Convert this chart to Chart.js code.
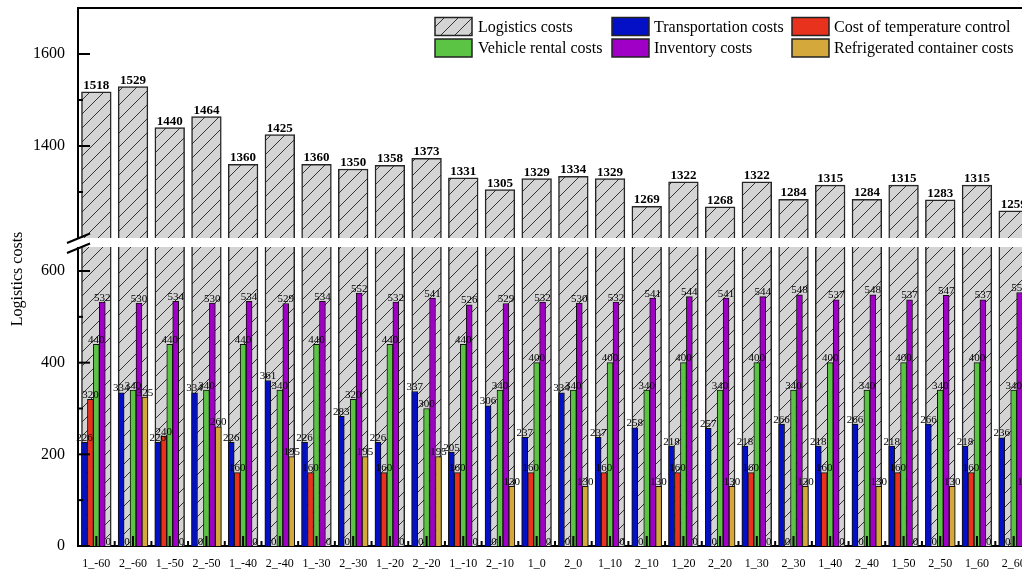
<!DOCTYPE html>
<html>
<head>
<meta charset="utf-8">
<script src="https://cdn.jsdelivr.net/npm/chart.js@4.4.1/dist/chart.umd.min.js"></script>
<style>
html,body{margin:0;padding:0;background:#fff;overflow:hidden;width:1022px;height:572px;}
canvas{display:block;}
</style>
</head>
<body>
<canvas id="c" width="1040" height="572"></canvas>
<script>
const categories = ['1_-60','2_-60','1_-50','2_-50','1_-40','2_-40','1_-30','2_-30','1_-20','2_-20','1_-10','2_-10','1_0','2_0','1_10','2_10','1_20','2_20','1_30','2_30','1_40','2_40','1_50','2_50','1_60','2_60'];
const logisticsCosts = [1518,1529,1440,1464,1360,1425,1360,1350,1358,1373,1331,1305,1329,1334,1329,1269,1322,1268,1322,1284,1315,1284,1315,1283,1315,1259];
const transportationCosts = [226,334,226,334,226,361,226,283,226,337,205,306,237,334,237,258,218,257,218,266,218,266,218,266,218,236];
const temperatureControlCosts = [320,0,240,0,160,0,160,0,160,0,160,0,160,0,160,0,160,0,160,0,160,0,160,0,160,0];
const vehicleRentalCosts = [440,340,440,340,440,340,440,320,440,300,440,340,400,340,400,340,400,340,400,340,400,340,400,340,400,340];
const inventoryCosts = [532,530,534,530,534,529,534,552,532,541,526,529,532,530,532,541,544,541,544,548,537,548,537,547,537,553];
const refrigeratedContainerCosts = [0,325,0,260,0,195,0,195,0,195,0,130,0,130,0,130,0,130,0,130,0,130,0,130,0,130];
const lowerTicks = [0,200,400,600];
const upperTicks = [1400,1600];

const SERIF = '"Liberation Serif", "Times New Roman", serif';
const COLORS = {
  blue:'#0410C6', red:'#E8321E', green:'#5CC444', purple:'#A000C6', gold:'#D4A83A'
};

function makeHatch(){
  const n = 14;
  const p = document.createElement('canvas');
  p.width = n; p.height = n;
  const g = p.getContext('2d');
  g.fillStyle = '#D4D4D4';
  g.fillRect(0,0,n,n);
  g.strokeStyle = '#333';
  g.lineWidth = 1;
  g.beginPath();
  g.moveTo(-1,n+1); g.lineTo(n+1,-1);
  g.moveTo(-1,1); g.lineTo(1,-1);
  g.moveTo(n-1,n+1); g.lineTo(n+1,n-1);
  g.stroke();
  return document.getElementById('c').getContext('2d').createPattern(p,'repeat');
}
const hatch = makeHatch();

// group geometry (fraction of a category slot occupied by a group)
const GROUP_FRAC = 0.81;
const SLOT_PX = 954 / categories.length;
const GREY_PX = SLOT_PX * GROUP_FRAC;
const INNER_PX = GREY_PX / 5;

function toPoints(values, slotShift){
  return values.map((v, i) => ({x: i + slotShift, y: v}));
}
function innerDs(label, values, k, color){
  return {label, data: toPoints(values, (k - 2) * GROUP_FRAC / 5), backgroundColor: color,
    borderColor:'#111', borderWidth:1, yAxisID:'y', grouped:false, barThickness: INNER_PX};
}
function greyDs(axis){
  return {label:'Logistics costs', data: toPoints(logisticsCosts, 0), backgroundColor: hatch,
    borderColor:'#262626', borderWidth:1.5, yAxisID: axis, grouped:false, barThickness: GREY_PX};
}

const helpers = {
  id:'helpers',
  beforeDatasetDraw(chart, args){
    const ys = chart.scales[args.meta.yAxisID];
    const a = chart.chartArea;
    const ctx = chart.ctx;
    ctx.save();
    ctx.beginPath();
    ctx.rect(a.left, ys.top, a.right - a.left, ys.bottom - ys.top);
    ctx.clip();
  },
  afterDatasetDraw(chart){
    chart.ctx.restore();
  },
  afterDatasetsDraw(chart){
    const ctx = chart.ctx;
    const a = chart.chartArea;
    const yL = chart.scales.y, yU = chart.scales.y2, x = chart.scales.x;
    ctx.save();
    ctx.fillStyle = '#000';
    ctx.textAlign = 'center';
    ctx.textBaseline = 'alphabetic';
    ctx.font = '11px ' + SERIF;
    for (let d = 0; d < 5; d++){
      const meta = chart.getDatasetMeta(d);
      const pts = chart.data.datasets[d].data;
      meta.data.forEach((bar, i) => {
        ctx.fillText(String(pts[i].y), bar.x, yL.getPixelForValue(pts[i].y) - 1.5);
      });
    }
    ctx.font = 'bold 13px ' + SERIF;
    chart.getDatasetMeta(6).data.forEach((bar, i) => {
      ctx.fillText(String(logisticsCosts[i]), bar.x, yU.getPixelForValue(logisticsCosts[i]) - 3);
    });
    // x ticks (inward)
    ctx.strokeStyle = '#000';
    ctx.lineWidth = 2;
    for (let i = 0; i < categories.length; i++){
      const cx = x.getPixelForValue(i);
      ctx.beginPath(); ctx.moveTo(cx, a.bottom); ctx.lineTo(cx, a.bottom - 10); ctx.stroke();
      const bx = x.getPixelForValue(i + 0.5);
      ctx.beginPath(); ctx.moveTo(bx, a.bottom); ctx.lineTo(bx, a.bottom - 5); ctx.stroke();
    }
    // y ticks (inward)
    [[yL,[0,200,400,600],12],[yL,[100,300,500],5],[yU,[1400,1600],12],[yU,[1300,1500],5]].forEach(([s, vs, len]) => {
      vs.forEach(v => {
        const py = s.getPixelForValue(v);
        ctx.beginPath(); ctx.moveTo(a.left, py); ctx.lineTo(a.left + len, py); ctx.stroke();
      });
    });
    // top border
    ctx.beginPath(); ctx.moveTo(a.left - 1, a.top); ctx.lineTo(chart.width, a.top); ctx.stroke();
    // axis break
    const gTop = yU.bottom, gBot = gTop + 9;
    ctx.fillStyle = '#fff';
    ctx.fillRect(a.left - 2, gTop, chart.width, gBot - gTop);
    ctx.lineWidth = 2;
    ctx.beginPath();
    ctx.moveTo(a.left - 11, gTop + 5); ctx.lineTo(a.left + 12, gTop - 4.5);
    ctx.moveTo(a.left - 11, gBot + 6); ctx.lineTo(a.left + 12, gBot - 3.5);
    ctx.stroke();
    // y axis title
    ctx.save();
    ctx.translate(17.5, 279);
    ctx.rotate(-Math.PI/2);
    ctx.textAlign = 'center';
    ctx.textBaseline = 'middle';
    ctx.fillStyle = '#000';
    ctx.font = '16px ' + SERIF;
    ctx.fillText('Logistics costs', 0, 0);
    ctx.restore();
    // legend
    const items = [
      ['Logistics costs', hatch, 435, 26.5, 478],
      ['Transportation costs', COLORS.blue, 612, 26.5, 654],
      ['Cost of temperature control', COLORS.red, 792, 26.5, 834],
      ['Vehicle rental costs', COLORS.green, 435, 48, 478],
      ['Inventory costs', COLORS.purple, 612, 48, 654],
      ['Refrigerated container costs', COLORS.gold, 792, 48, 834]
    ];
    ctx.font = '16px ' + SERIF;
    ctx.textAlign = 'left';
    ctx.textBaseline = 'middle';
    items.forEach(([label, fill, bx, cy, tx]) => {
      ctx.fillStyle = fill;
      ctx.fillRect(bx, cy - 9, 37, 18);
      ctx.strokeStyle = '#222';
      ctx.lineWidth = 1.5;
      ctx.strokeRect(bx, cy - 9, 37, 18);
      ctx.fillStyle = '#000';
      ctx.fillText(label, tx, cy + 1);
    });
    ctx.restore();
  }
};

function noPad(s){ s.paddingTop = 0; s.paddingBottom = 0; s.paddingLeft = 0; s.paddingRight = 0; }

new Chart(document.getElementById('c'), {
  type:'bar',
  data:{
    datasets:[
      innerDs('Transportation costs', transportationCosts, 0, COLORS.blue),
      innerDs('Cost of temperature control', temperatureControlCosts, 1, COLORS.red),
      innerDs('Vehicle rental costs', vehicleRentalCosts, 2, COLORS.green),
      innerDs('Inventory costs', inventoryCosts, 3, COLORS.purple),
      innerDs('Refrigerated container costs', refrigeratedContainerCosts, 4, COLORS.gold),
      greyDs('y'),
      greyDs('y2')
    ]
  },
  options:{
    responsive:false,
    animation:false,
    devicePixelRatio:1,
    layout:{padding:{left:0, right:8, top:8, bottom:0}},
    plugins:{legend:{display:false}, tooltip:{enabled:false}},
    scales:{
      x:{type:'linear', position:'bottom', offset:false, min:-0.5, max:categories.length - 0.5,
        grid:{display:false, drawTicks:false},
        border:{display:true, color:'#000', width:2},
        afterBuildTicks(s){ s.ticks = categories.map((c, i) => ({value:i})); },
        ticks:{color:'#000', font:{family:SERIF, size:12}, padding:11, maxRotation:0, autoSkip:false,
          callback:(v) => categories[v]},
        afterFit(s){ s.height = 26; noPad(s); }
      },
      y:{type:'linear', position:'left', stack:'v', stackWeight:308, min:0, max:672,
        grid:{display:false, drawTicks:false},
        border:{display:true, color:'#000', width:2},
        afterBuildTicks(s){ s.ticks = lowerTicks.map(v => ({value:v})); },
        ticks:{color:'#000', font:{family:SERIF, size:16}, padding:13, callback:(v) => String(v)},
        afterFit(s){ s.width = 78; noPad(s); }
      },
      y2:{type:'linear', position:'left', stack:'v', stackWeight:230, min:1200, max:1700,
        grid:{display:false, drawTicks:false},
        border:{display:true, color:'#000', width:2},
        afterBuildTicks(s){ s.ticks = upperTicks.map(v => ({value:v})); },
        ticks:{color:'#000', font:{family:SERIF, size:16}, padding:13, callback:(v) => String(v)},
        afterFit(s){ s.width = 78; noPad(s); }
      }
    }
  },
  plugins:[helpers]
});
</script>
</body>
</html>
